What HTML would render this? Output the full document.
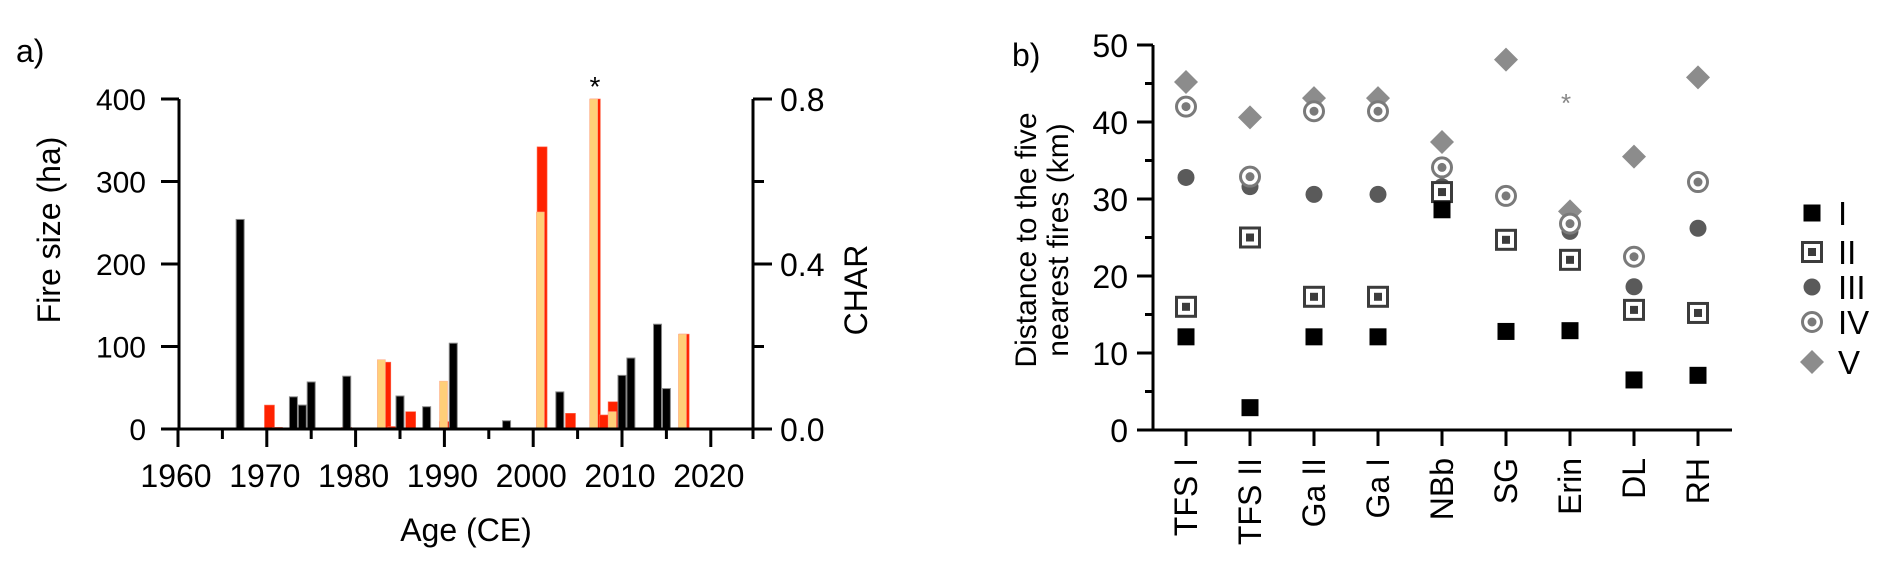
<!DOCTYPE html>
<html><head><meta charset="utf-8"><style>
html,body{margin:0;padding:0;background:#fff;}
svg{display:block;font-family:"Liberation Sans",Arial,sans-serif;}
</style></head><body>
<svg id="fig" width="1892" height="573" viewBox="0 0 1892 573" xmlns="http://www.w3.org/2000/svg">
<g id="pa"></g>
<g id="pb"></g>
</svg>
<script>
// ---- Panel a data ----
const blackYears = [1961, 1967, 1973, 1974, 1975, 1979, 1985, 1988, 1991, 1997, 2003, 2010, 2011, 2014, 2015];
const blackVals  = [1, 254, 39, 29, 57, 64, 40, 27, 104, 10, 45, 65, 86, 127, 49];
const redYears = [1969.6, 1970.3, 1971.2, 1979, 1982.4, 1983.4, 1984.2, 1986.2, 1990, 2001, 2004.2, 2007, 2008, 2009, 2010.5, 2014.5, 2017, 2023];
const redVals  = [1, 29, 2, 2, 1, 81, 3, 21, 9, 342, 19, 400, 17, 33, 2, 1, 115, 1];
const orangeYears = [1982.9, 1989.9, 2000.8, 2006.8, 2008.9, 2016.8];
const orangeVals  = [84, 58, 263, 400, 21, 115];
const yTicksA = [0, 100, 200, 300, 400];
const yTicksARight = ["0.0", "0.4", "0.8"];
const xTicksA = [1960, 1970, 1980, 1990, 2000, 2010, 2020];

// ---- Panel b data ----
const sites = ["TFS I", "TFS II", "Ga II", "Ga I", "NBb", "SG", "Erin", "DL", "RH"];
const dist1 = [12.1, 2.9, 12.1, 12.1, 28.6, 12.8, 12.9, 6.5, 7.1];
const dist2 = [16.0, 25.0, 17.3, 17.3, 30.9, 24.7, 22.1, 15.6, 15.2];
const dist3 = [32.8, 31.6, 30.6, 30.6, 31.6, 30.4, 25.8, 18.6, 26.2];
const dist4 = [42.0, 32.9, 41.4, 41.4, 34.1, 30.4, 26.8, 22.5, 32.2];
const dist5 = [45.2, 40.6, 43.1, 43.1, 37.4, 48.1, 28.4, 35.5, 45.8];
const yTicksB = [0, 10, 20, 30, 40, 50];
const legendLabels = ["I", "II", "III", "IV", "V"];

const NS = "http://www.w3.org/2000/svg";
function mk(parent, tag, attrs, text) {
  const e = document.createElementNS(NS, tag);
  for (const k in attrs) e.setAttribute(k, attrs[k]);
  if (text !== undefined) e.textContent = text;
  parent.appendChild(e);
  return e;
}

// ===== Panel A =====
const pa = document.getElementById('pa');
const ax = yr => 178 + (yr - 1960) * 8.88;
const Y0 = 429;
const ay = v => Y0 - v * 0.825;

let t = mk(pa, 'text', {x: 16, y: 62, 'font-size': 32});
t.textContent = 'a)';



redYears.forEach((y, i) => {
  const r = mk(pa, 'rect', {x: ax(y) - 5, y: ay(redVals[i]), width: 10, height: Math.max(1.5, Y0 - ay(redVals[i])), fill: '#ff2200', stroke: '#ff6a50', 'stroke-width': 0.6});
  
  
});
orangeYears.forEach((y, i) => {
  const r = mk(pa, 'rect', {x: ax(y) - 4, y: ay(orangeVals[i]), width: 8, height: Y0 - ay(orangeVals[i]), fill: '#ffcf78', stroke: '#ffb090', 'stroke-width': 0.6});
  
  
});
blackYears.forEach((y, i) => {
  const r = mk(pa, 'rect', {x: ax(y) - 4, y: ay(blackVals[i]), width: 8, height: Math.max(1.5, Y0 - ay(blackVals[i])), fill: '#000', stroke: '#888', 'stroke-width': 1});
  
  
});

let l = mk(pa, 'path', {d: `M179 ${ay(400)} V${Y0} M161 ${Y0} H755 M753 ${ay(400)} V${Y0}`, stroke: '#000', 'stroke-width': 3, fill: 'none'});


yTicksA.forEach(v => {
  mk(pa, 'line', {x1: 161, x2: 179, y1: ay(v), y2: ay(v), stroke: '#000', 'stroke-width': 3});
  const tx = mk(pa, 'text', {x: 146, y: ay(v) + 11, 'font-size': 30, 'text-anchor': 'end'}, String(v));
  
  
});
for (let k = 0; k <= 4; k++) {
  const v = k * 100;
  mk(pa, 'line', {x1: 753, x2: k % 2 === 0 ? 772 : 764, y1: ay(v), y2: ay(v), stroke: '#000', 'stroke-width': 3});
}
yTicksARight.forEach((s, i) => {
  const v = i * 200;
  const tx = mk(pa, 'text', {x: 780, y: ay(v) + 12, 'font-size': 32}, s);
  
  
});
for (let y = 1960; y <= 2020; y += 5) {
  const major = (y % 10 === 0);
  mk(pa, 'line', {x1: ax(y), x2: ax(y), y1: Y0, y2: major ? 447 : 439, stroke: '#000', 'stroke-width': 3});
}
mk(pa, 'line', {x1: 753, x2: 753, y1: Y0, y2: 439, stroke: '#000', 'stroke-width': 3});
xTicksA.forEach(y => {
  const tx = mk(pa, 'text', {x: ax(y) - 2, y: 487, 'font-size': 32, 'text-anchor': 'middle'}, String(y));
  
  
});
t = mk(pa, 'text', {x: 466, y: 541, 'font-size': 32, 'text-anchor': 'middle'}, 'Age (CE)');


t = mk(pa, 'text', {x: 0, y: 0, 'font-size': 32, 'text-anchor': 'middle', transform: 'translate(60,230) rotate(-90)'}, 'Fire size (ha)');


t = mk(pa, 'text', {x: 0, y: 0, 'font-size': 32, 'text-anchor': 'middle', transform: 'translate(867,290) rotate(-90)'}, 'CHAR');


t = mk(pa, 'text', {x: 595, y: 96, 'font-size': 28, 'text-anchor': 'middle'}, '*');



// ===== Panel B =====
const pb = document.getElementById('pb');
const bx = i => 1186 + i * 64;
const by = v => 430 - v * 7.7;

t = mk(pb, 'text', {x: 1012, y: 66, 'font-size': 32}, 'b)');



l = mk(pb, 'path', {d: `M1153 ${by(50)} V430 M1137 430 H1732`, stroke: '#000', 'stroke-width': 3, fill: 'none'});


for (let v = 0; v <= 50; v += 5) {
  mk(pb, 'line', {x1: v % 10 === 0 ? 1137 : 1145, x2: 1153, y1: by(v), y2: by(v), stroke: '#000', 'stroke-width': 3});
}
yTicksB.forEach(v => {
  const tx = mk(pb, 'text', {x: 1128, y: by(v) + 12, 'font-size': 32, 'text-anchor': 'end'}, String(v));
  
  
});
sites.forEach((s, i) => {
  mk(pb, 'line', {x1: bx(i), x2: bx(i), y1: 430, y2: 446, stroke: '#000', 'stroke-width': 3});
  const tx = mk(pb, 'text', {x: 0, y: 0, 'font-size': 32, 'text-anchor': 'end', transform: `translate(${bx(i) + 11},458) rotate(-90)`}, s);
  
  
});
t = mk(pb, 'text', {x: 0, y: 0, 'font-size': 30, 'text-anchor': 'middle', transform: 'translate(1036,240) rotate(-90)'}, 'Distance to the five');


t = mk(pb, 'text', {x: 0, y: 0, 'font-size': 30, 'text-anchor': 'middle', transform: 'translate(1068,240) rotate(-90)'}, 'nearest fires (km)');



function marker(g, type, x, y) {
  if (type === 0) {
    mk(g, 'rect', {x: x - 8.5, y: y - 8.5, width: 17, height: 17, fill: '#000'});
  } else if (type === 1) {
    mk(g, 'rect', {x: x - 9.5, y: y - 9.5, width: 19, height: 19, fill: '#fff', stroke: '#3c3c3c', 'stroke-width': 3});
    mk(g, 'rect', {x: x - 4, y: y - 4, width: 8, height: 8, fill: '#3c3c3c'});
  } else if (type === 2) {
    mk(g, 'circle', {cx: x, cy: y, r: 8.5, fill: '#5a5a5a'});
  } else if (type === 3) {
    mk(g, 'circle', {cx: x, cy: y, r: 9.5, fill: '#fff', stroke: '#7a7a7a', 'stroke-width': 3});
    mk(g, 'circle', {cx: x, cy: y, r: 4.5, fill: '#7a7a7a'});
  } else {
    mk(g, 'path', {d: `M${x} ${y - 12} L${x + 12} ${y} L${x} ${y + 12} L${x - 12} ${y} Z`, fill: '#8c8c8c'});
  }
}
const seriesB = [dist1, dist2, dist3, dist4, dist5];
const drawOrder = [4, 2, 3, 1, 0];
drawOrder.forEach(si => {
  seriesB[si].forEach((v, i) => {
    const g = mk(pb, 'g', {});
    
    
    marker(g, si, bx(i), by(v));
  });
});
t = mk(pb, 'text', {x: 1566, y: 112, 'font-size': 26, fill: '#888', 'text-anchor': 'middle'}, '*');



const legY = [213, 252, 287, 322, 362];
legendLabels.forEach((s, i) => {
  const g = mk(pb, 'g', {});
  
  
  marker(g, i, 1812, legY[i]);
  mk(g, 'text', {x: 1838, y: legY[i] + 12, 'font-size': 33}, s);
});
</script>
</body></html>
